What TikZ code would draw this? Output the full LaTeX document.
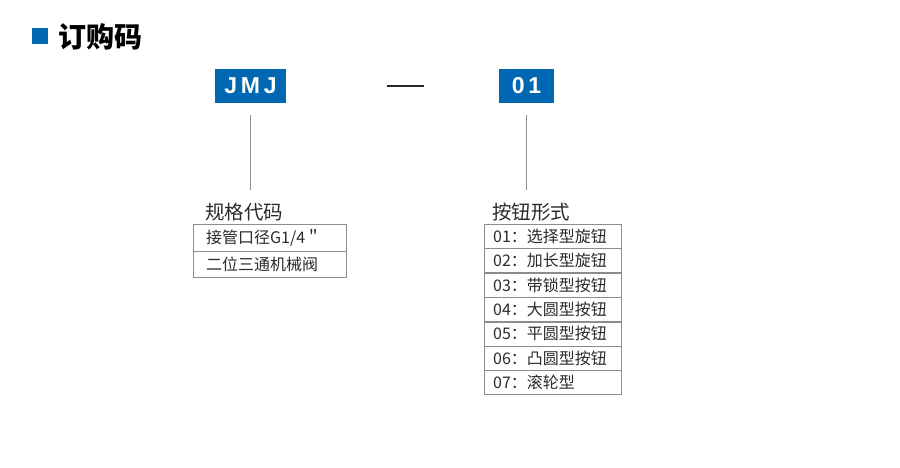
\documentclass[tikz,border=0pt]{standalone}
\usepackage{fontspec}
\setmainfont{Liberation Sans}
\newfontfamily\cjk{Noto Sans CJK SC}
\usetikzlibrary{positioning}
\definecolor{tagblue}{HTML}{0068B3}
\definecolor{textgray}{HTML}{2A2A2A}
\definecolor{linegray}{HTML}{8C8C8C}

\begin{document}
\begin{tikzpicture}[x=1pt,y=-1pt,
    tagbox/.style={fill=tagblue,text=white,inner sep=0pt,minimum height=34pt,
                   font=\fontsize{23}{23}\selectfont\bfseries},
    headtext/.style={anchor=west,inner sep=0pt,text=textgray,
                     font=\cjk\fontsize{19.5}{19.5}\selectfont},
    rowleft/.style={draw=linegray,anchor=north west,inner xsep=13pt,inner ysep=0pt,
                    text width=127pt,minimum height=26.5pt,text=textgray,
                    font=\cjk\fontsize{16}{16}\selectfont},
    rowright/.style={draw=linegray,anchor=north west,inner xsep=9pt,inner ysep=0pt,
                     text width=119pt,minimum height=24pt,text=textgray,
                     font=\cjk\fontsize{16}{16}\selectfont}]
\useasboundingbox (0,0) rectangle (900,467);

% title
\fill[tagblue] (32,28) rectangle (48,44);
\node[anchor=west,inner sep=0pt,font=\cjk\fontsize{28}{28}\selectfont\bfseries]
    (title) at (58,37) {订购码};

% code parts
\node[tagbox,minimum width=71pt] (JMJ) at (250.5,86) {J\,M\,J};
\node[tagbox,minimum width=55pt] (N01) at (526.5,86) {0\,1};
\coordinate (dashA) at (387,86);
\coordinate (dashB) at (424,86);
\draw[line width=1.5pt,black!85] (dashA) -- (dashB);

% headers
\node[headtext] (spec) at (205,212) {规格代码};
\node[headtext] (btn)  at (492,212) {按钮形式};

% left table
\node[rowleft] (L1) at (193,224) {接管口径G1/4＂};
\node[rowleft] (L2) at (L1.south west) {二位三通机械阀};

% right table
\node[rowright] (R1) at (484,224) {01：选择型旋钮};
\node[rowright] (R2) at (R1.south west) {02：加长型旋钮};
\node[rowright] (R3) at (R2.south west) {03：带锁型按钮};
\node[rowright] (R4) at (R3.south west) {04：大圆型按钮};
\node[rowright] (R5) at (R4.south west) {05：平圆型按钮};
\node[rowright] (R6) at (R5.south west) {06：凸圆型按钮};
\node[rowright] (R7) at (R6.south west) {07：滚轮型};

% leaders
\coordinate (specTop) at (250.5,190);
\coordinate (btnTop)  at (526.5,190);
\draw[linegray,line width=0.8pt] (JMJ.south) ++(0,12) -- (specTop);
\draw[linegray,line width=0.8pt] (N01.south) ++(0,12) -- (btnTop);
\end{tikzpicture}
\end{document}
